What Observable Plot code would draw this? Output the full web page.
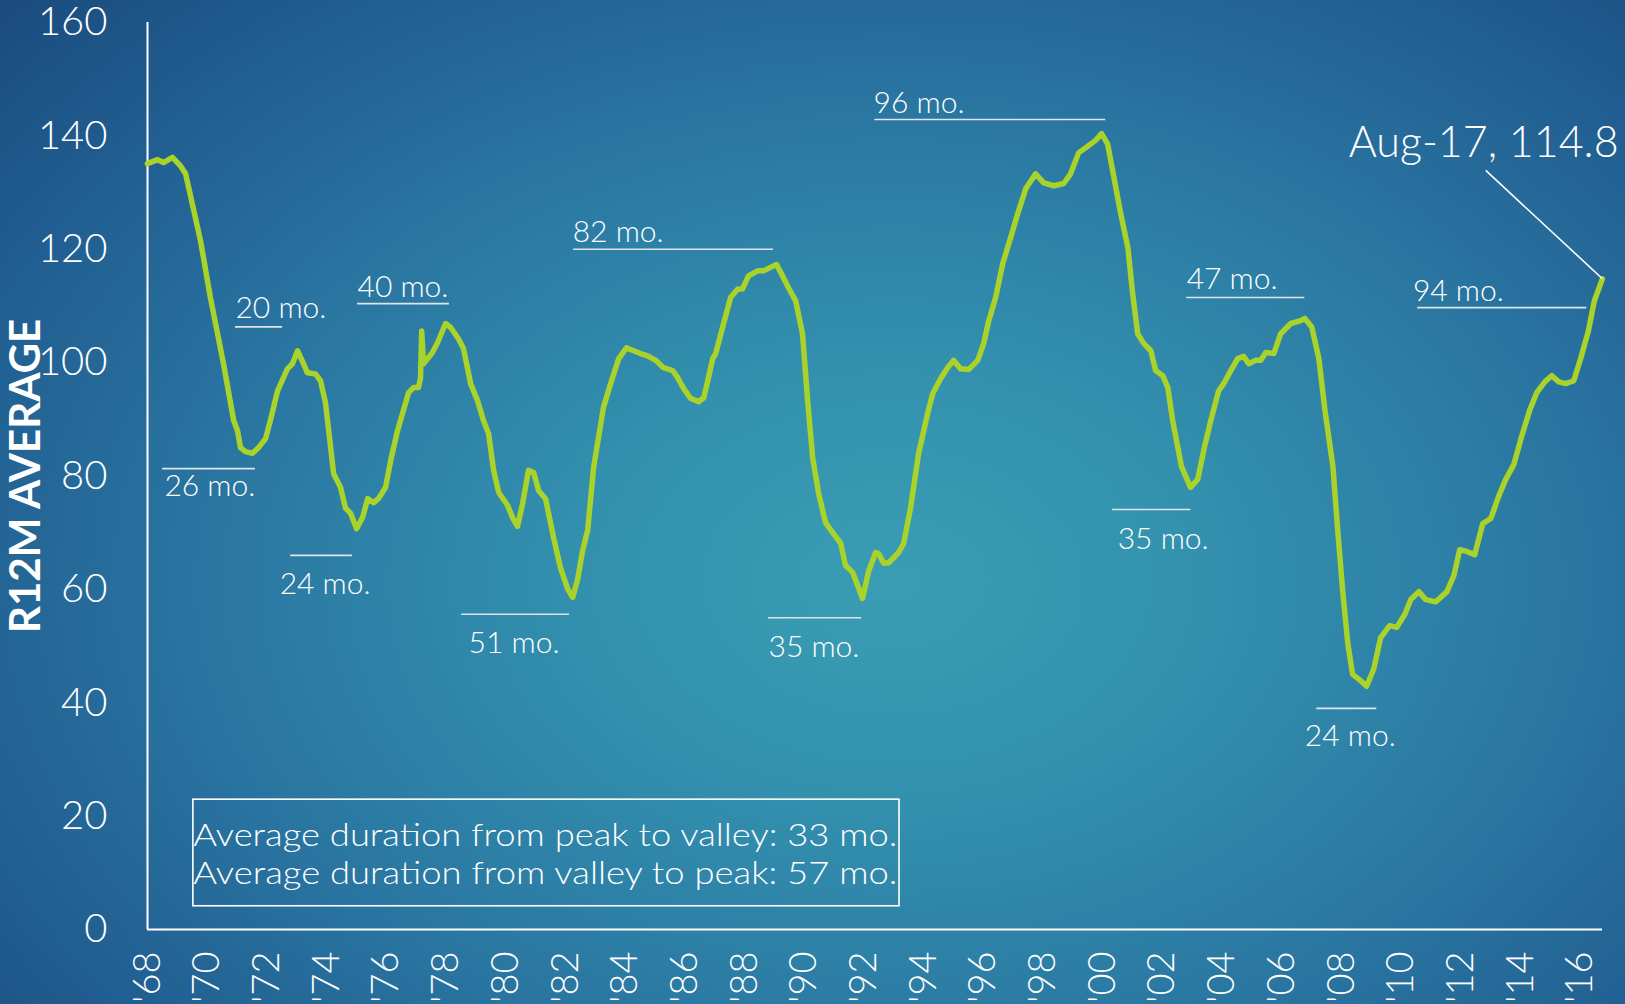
<!DOCTYPE html>
<html>
<head>
<meta charset="utf-8">
<script src="https://cdn.jsdelivr.net/npm/d3@7"></script>
<script src="https://cdn.jsdelivr.net/npm/@observablehq/plot@0.6"></script>
<style>
  html, body { margin: 0; padding: 0; }
  body {
    width: 1625px; height: 1004px; overflow: hidden;
    background: radial-gradient(ellipse 75% 85% at 55% 58%, #3a9db4 0%, #3391ae 25%, #2a77a2 55%, #215e91 80%, #1b4b7d 100%);
    font-family: Lato, "Open Sans", sans-serif;
  }
  #chart { position: absolute; left: 0; top: 0; }
</style>
</head>
<body>
<div id="chart"></div>
<script>
// Monthly R12M average (decimal year, value)
const years = [
  1968.83,1969.17,1969.37,1969.67,1969.94,1970.11,1970.61,1970.94,1971.38,1971.72,1971.85,1971.95,1972.12,1972.35,1972.55,1972.79,1972.95,
  1973.19,1973.52,1973.69,1973.86,1974.06,1974.19,1974.46,1974.63,1974.80,1975.07,1975.30,1975.47,1975.64,1975.84,1976.04,1976.21,1976.41,
  1976.57,1976.81,1976.98,1977.21,1977.58,1977.75,1977.91,1977.98,1978.02,1978.08,1978.38,1978.55,1978.82,1978.99,1979.25,1979.42,1979.66,
  1979.89,1980.09,1980.26,1980.43,1980.60,1980.90,1981.06,1981.23,1981.40,1981.60,1981.77,1981.94,1982.17,1982.44,1982.67,1982.91,1983.08,
  1983.24,1983.41,1983.58,1983.78,1984.11,1984.35,1984.62,1984.88,1985.12,1985.35,1985.59,1985.86,1986.12,1986.43,1986.59,1986.80,1987.03,
  1987.30,1987.47,1987.63,1987.77,1987.87,1988.10,1988.37,1988.61,1988.77,1988.97,1989.28,1989.48,1989.71,1989.91,1990.11,1990.31,1990.55,
  1990.78,1990.95,1991.12,1991.32,1991.55,1991.82,1992.06,1992.22,1992.46,1992.79,1993.00,1993.23,1993.33,1993.50,1993.67,1994.00,1994.17,
  1994.40,1994.67,1994.97,1995.14,1995.41,1995.64,1995.84,1996.08,1996.35,1996.65,1996.85,1997.02,1997.25,1997.49,1997.75,1997.99,1998.26,
  1998.59,1998.86,1999.20,1999.53,1999.76,2000.03,2000.37,2000.60,2000.80,2001.00,2001.17,2001.44,2001.68,2001.84,2002.01,2002.21,2002.45,
  2002.61,2002.85,2003.02,2003.18,2003.48,2003.78,2004.02,2004.25,2004.46,2004.72,2004.89,2005.13,2005.36,2005.56,2005.73,2005.96,2006.13,
  2006.30,2006.57,2006.80,2007.14,2007.47,2007.61,2007.84,2008.08,2008.28,2008.55,2008.71,2008.88,2009.05,2009.21,2009.48,2009.68,2009.92,
  2010.15,2010.45,2010.69,2010.96,2011.16,2011.43,2011.66,2012.00,2012.37,2012.60,2012.80,2013.04,2013.30,2013.57,2013.84,2014.11,2014.34,
  2014.61,2014.88,2015.15,2015.38,2015.65,2015.88,2016.12,2016.35,2016.62,2016.85,2017.11,2017.31,2017.58
];
const values = [
  135.1,135.8,135.3,136.2,134.7,133.3,121.5,111.5,99.8,89.8,88.0,85.0,84.3,84.0,85.0,86.6,89.8,
  95.0,98.9,99.8,102.1,99.8,98.2,98.0,96.8,92.8,80.4,78.0,74.3,73.4,70.7,72.7,76.0,75.3,
  76.0,78.0,82.7,88.0,94.7,95.6,95.6,97.2,105.6,99.8,101.8,103.5,106.9,106.2,104.2,102.5,96.3,
  93.3,89.8,87.5,81.0,77.1,74.8,72.7,71.1,75.1,81.0,80.6,77.4,76.0,69.1,63.8,60.1,58.6,
  61.6,66.8,70.4,81.5,92.1,96.3,100.7,102.6,102.1,101.6,101.2,100.4,99.1,98.6,97.4,95.4,93.7,
  93.1,93.8,97.4,100.7,101.6,106.2,111.5,113.0,113.0,115.3,116.2,116.2,116.8,117.3,115.3,113.2,110.9,
  105.1,93.3,83.2,76.9,71.8,69.8,68.1,64.2,63.0,58.4,63.3,66.5,66.3,64.6,64.7,66.5,68.1,
  74.4,84.0,91.0,94.5,97.2,99.1,100.4,98.9,98.8,100.4,103.4,107.4,111.5,117.5,122.0,126.3,130.7,
  133.3,131.7,131.2,131.6,133.3,137.0,138.3,139.2,140.4,138.6,133.9,126.3,120.3,112.2,105.1,103.4,102.1,
  98.6,97.7,95.6,89.8,81.6,78.0,79.4,85.2,89.8,95.0,96.3,98.6,100.7,101.1,99.8,100.4,100.4,
  101.8,101.6,105.1,106.9,107.4,107.8,106.3,100.7,91.7,81.7,70.5,59.6,50.4,45.0,43.9,42.9,46.0,
  51.5,53.6,53.3,55.6,58.2,59.6,58.2,57.8,59.6,62.4,67.0,66.7,66.1,71.6,72.5,76.5,79.4,
  82.0,87.1,91.7,94.7,96.6,97.7,96.6,96.3,96.8,100.7,105.6,110.9,114.8
];

// Axis ticks: one label every 24 months (the labelled month is November)
const xTickYears = d3.range(1968, 2017, 2);
const xTickLabels = xTickYears.map(y => "'" + String(y % 100).padStart(2, "0"));
const labelMonthOffset = 10 / 12;
const yTicks = [0, 20, 40, 60, 80, 100, 120, 140, 160];

// Cycle-duration annotations (label, text anchor, rule span)
const durLabels = ["26 mo.", "20 mo.", "24 mo.", "40 mo.", "51 mo.", "82 mo.", "35 mo.", "96 mo.", "35 mo.", "47 mo.", "24 mo.", "94 mo."];
const durTextX  = [1969.40, 1971.78, 1973.26, 1975.87, 1979.59, 1983.08, 1989.64, 1993.16, 2001.34, 2003.65, 2007.61, 2011.23];
const durTextY  = [76.5, 107.8, 59.1, 111.6, 48.7, 121.3, 48.0, 144.1, 67.2, 112.9, 32.3, 110.9];
const durRuleX1 = [1969.34, 1971.78, 1973.63, 1975.87, 1979.36, 1983.11, 1989.64, 1993.20, 2001.17, 2003.65, 2008.01, 2011.39];
const durRuleX2 = [1972.45, 1973.36, 1975.70, 1978.95, 1982.97, 1989.81, 1992.76, 2000.94, 2003.79, 2007.61, 2010.02, 2017.06];
const durRuleY  = [81.3, 106.3, 66.0, 110.4, 55.6, 120.0, 55.0, 142.9, 74.1, 111.5, 39.0, 109.7];

const lastLabel = "Aug-17, 114.8";
const lastLabelPos = {x: 2009.08, y: 136.2};
const leaderStart = {x: 2013.67, y: 133.9};

const boxLines = ["Average duration from peak to valley: 33 mo.", "Average duration from valley to peak: 57 mo."];
const boxSpan = {x1: 1970.37, x2: 1994.03, y1: 4.1, y2: 22.9};
const boxLineY = [14.8, 8.1];

const yLabel = "R12M AVERAGE";

const series = years.map((x, i) => ({x, v: values[i]}));
const last = series[series.length - 1];
const durs = durLabels.map((t, i) => ({t, tx: durTextX[i], ty: durTextY[i], x1: durRuleX1[i], x2: durRuleX2[i], y: durRuleY[i]}));

const green = "#a9d22a";
const ruleColor = "#dfe4ea";

const chart = Plot.plot({
  width: 1625,
  height: 1004,
  marginLeft: 147,
  marginRight: 23,
  marginTop: 22,
  marginBottom: 75,
  style: {background: "transparent", color: "white", fontFamily: "Lato, 'Open Sans', sans-serif", overflow: "visible"},
  x: {domain: [1968.833, 2017.583]},
  y: {domain: [0, 160]},
  marks: [
    Plot.axisY({ticks: yTicks, tickSize: 0, tickPadding: 40, fontSize: 40, fontWeight: 300, label: null, tickFormat: d => d}),
    Plot.axisX({ticks: xTickYears.map(y => y + labelMonthOffset), tickFormat: (d, i) => xTickLabels[i], tickRotate: -90, tickSize: 0, tickPadding: 22, fontSize: 38, fontWeight: 300, label: null}),
    Plot.ruleX([1968.833], {stroke: "white", strokeWidth: 2}),
    Plot.ruleY([0], {stroke: "white", strokeWidth: 2}),
    Plot.text([yLabel], {frameAnchor: "left", dx: -121, rotate: -90, textAnchor: "middle", fontSize: 42, fontWeight: "bold", fill: "white"}),
    Plot.ruleY(durs, {x1: "x1", x2: "x2", y: "y", stroke: ruleColor, strokeWidth: 1.6}),
    Plot.text(durs, {x: "tx", y: "ty", text: "t", textAnchor: "start", lineAnchor: "bottom", fontSize: 30, fontWeight: 300, fill: "white"}),
    Plot.rect([boxSpan], {x1: "x1", x2: "x2", y1: "y1", y2: "y2", fill: "none", stroke: "white", strokeWidth: 1.6}),
    Plot.text(boxLines, {x: boxSpan.x1, y: (d, i) => boxLineY[i], text: d => d, textAnchor: "start", lineAnchor: "bottom", fontSize: 31, fontWeight: 300, fill: "white", className: "boxtext"}),
    Plot.line(series, {x: "x", y: "v", stroke: green, strokeWidth: 5.5, strokeLinejoin: "round", strokeLinecap: "round", curve: "linear"}),
    Plot.link([{x1: leaderStart.x, y1: leaderStart.y, x2: last.x, y2: last.v}], {x1: "x1", y1: "y1", x2: "x2", y2: "y2", stroke: "white", strokeWidth: 1.6}),
    Plot.text([lastLabel], {x: lastLabelPos.x, y: lastLabelPos.y, textAnchor: "start", lineAnchor: "bottom", fontSize: 43, fontWeight: 300, fill: "white"})
  ]
});
document.getElementById("chart").appendChild(chart);
// stretch the box text to the box width, as in the original
d3.select(chart).selectAll("g.boxtext text").attr("textLength", 704).attr("lengthAdjust", "spacingAndGlyphs");
</script>
</body>
</html>
